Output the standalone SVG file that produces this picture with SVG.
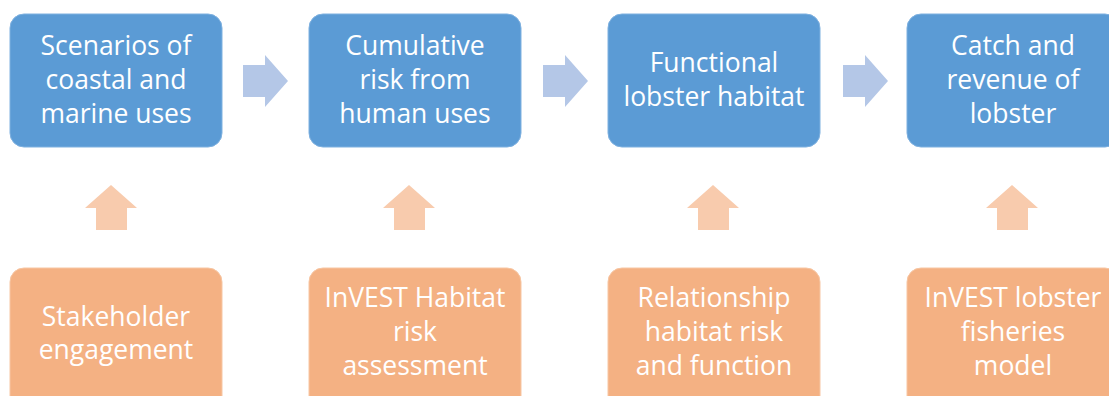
<svg xmlns="http://www.w3.org/2000/svg" width="1109" height="396" viewBox="0 0 1109 396">
  <style>
    .blue { fill: #5b9bd5; stroke: #7fb1e0; stroke-width: 1; }
    .orange { fill: #f4b183; stroke: #f7c6a3; stroke-width: 1; }
    .label { font-family: "Open Sans", Lato, sans-serif; font-size: 26.5px; fill: #ffffff; text-anchor: middle; }
    .flow { fill: #b4c7e7; }
    .feed { fill: #f8cbad; }
  </style>
  <defs>
    <!-- right-pointing block arrow, origin at shaft top-left -->
    <path id="right" d="M0 0 H22 V-10 L45 16 L22 42 V32 H0 Z"/>
    <!-- up-pointing block arrow, origin at tip -->
    <path id="up" d="M0 0 L26 23 H16 V45 H-15 V23 H-26 Z"/>
  </defs>

  <!-- top row: outcomes -->
  <g id="node-scenarios">
    <rect class="blue" x="10" y="14" width="212" height="133" rx="14"/>
    <text class="label" x="116" y="55">Scenarios of</text>
    <text class="label" x="116" y="89">coastal and</text>
    <text class="label" x="116" y="123">marine uses</text>
  </g>
  <g id="node-cumulative-risk">
    <rect class="blue" x="309" y="14" width="212" height="133" rx="14"/>
    <text class="label" x="415" y="55">Cumulative</text>
    <text class="label" x="415" y="89">risk from</text>
    <text class="label" x="415" y="123">human uses</text>
  </g>
  <g id="node-functional-habitat">
    <rect class="blue" x="608" y="14" width="212" height="133" rx="14"/>
    <text class="label" x="714" y="72">Functional</text>
    <text class="label" x="714" y="106">lobster habitat</text>
  </g>
  <g id="node-catch-revenue">
    <rect class="blue" x="907" y="14" width="212" height="133" rx="14"/>
    <text class="label" x="1013" y="55">Catch and</text>
    <text class="label" x="1013" y="89">revenue of</text>
    <text class="label" x="1013" y="123">lobster</text>
  </g>

  <!-- bottom row: methods -->
  <g id="node-stakeholder">
    <rect class="orange" x="10" y="268" width="212" height="150" rx="14"/>
    <text class="label" x="116" y="326">Stakeholder</text>
    <text class="label" x="116" y="359">engagement</text>
  </g>
  <g id="node-invest-hra">
    <rect class="orange" x="309" y="268" width="212" height="150" rx="14"/>
    <text class="label" x="415" y="307">InVEST Habitat</text>
    <text class="label" x="415" y="341">risk</text>
    <text class="label" x="415" y="375">assessment</text>
  </g>
  <g id="node-relationship">
    <rect class="orange" x="608" y="268" width="212" height="150" rx="14"/>
    <text class="label" x="714" y="307">Relationship</text>
    <text class="label" x="714" y="341">habitat risk</text>
    <text class="label" x="714" y="375">and function</text>
  </g>
  <g id="node-invest-lobster">
    <rect class="orange" x="907" y="268" width="212" height="150" rx="14"/>
    <text class="label" x="1013" y="307">InVEST lobster</text>
    <text class="label" x="1013" y="341">fisheries</text>
    <text class="label" x="1013" y="375">model</text>
  </g>

  <!-- connectors -->
  <g id="connectors">
    <use href="#right" class="flow" x="243" y="65"/>
    <use href="#right" class="flow" x="543" y="65"/>
    <use href="#right" class="flow" x="843" y="65"/>
    <use href="#up" class="feed" x="111" y="185"/>
    <use href="#up" class="feed" x="409" y="185"/>
    <use href="#up" class="feed" x="713" y="185"/>
    <use href="#up" class="feed" x="1012" y="185"/>
  </g>
</svg>
